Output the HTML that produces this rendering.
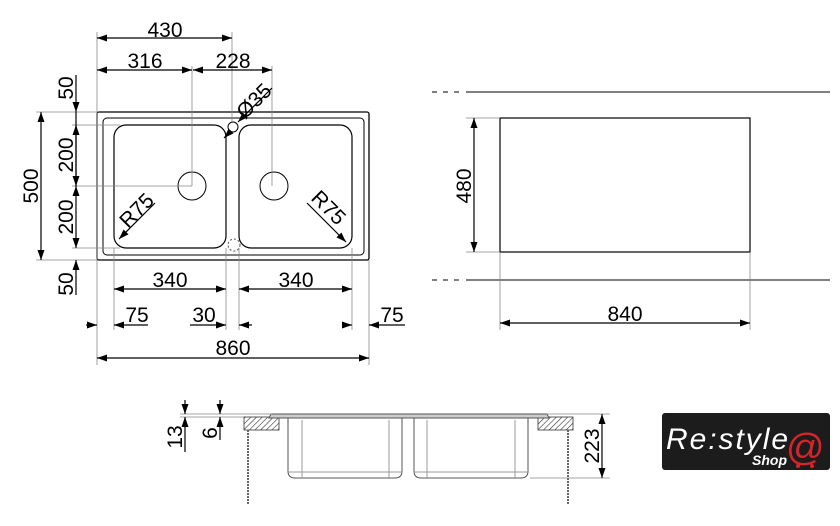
<!DOCTYPE html>
<html><head><meta charset="utf-8"><style>
html,body{margin:0;padding:0;background:#fff;}
svg{display:block;font-family:"Liberation Sans",sans-serif;}
</style></head><body>
<svg width="840" height="526" viewBox="0 0 840 526" xmlns="http://www.w3.org/2000/svg">
<defs>
<marker id="a" viewBox="0 0 10 10" refX="10" refY="5" markerWidth="10" markerHeight="10" orient="auto-start-reverse" markerUnits="userSpaceOnUse"><path d="M0,1.5 L10,5 L0,8.5 Z" fill="#000"/></marker>
<pattern id="h" width="4" height="4" patternUnits="userSpaceOnUse" patternTransform="rotate(45)"><rect width="4" height="4" fill="#fff"/><line x1="0" y1="0" x2="0" y2="4" stroke="#333" stroke-width="1.2"/></pattern>
</defs>
<g fill="none" stroke="#000" stroke-width="1">
<rect x="97" y="112" width="272" height="148" rx="2" stroke-width="1.3"/>
<rect x="103" y="118" width="261" height="137" rx="4"/>
<rect x="114" y="125" width="112" height="123" rx="12" stroke-width="1.2"/>
<rect x="239" y="125" width="113" height="123" rx="12" stroke-width="1.2"/>
<circle cx="192" cy="186" r="14"/>
<circle cx="274" cy="186" r="14"/>
<circle cx="233" cy="127" r="5"/>
<circle cx="234" cy="245" r="6" stroke-dasharray="2,2" stroke="#555"/>
</g>
<g fill="none" stroke="#888" stroke-width="0.8">
<line x1="97" y1="32" x2="97" y2="365"/>
<line x1="192" y1="66" x2="192" y2="186"/>
<line x1="232" y1="32" x2="232" y2="122"/>
<line x1="272" y1="66" x2="272" y2="186"/>
<line x1="36" y1="112" x2="97" y2="112"/>
<line x1="36" y1="260" x2="97" y2="260"/>
<line x1="72" y1="125" x2="120" y2="125"/>
<line x1="72" y1="186" x2="192" y2="186"/>
<line x1="72" y1="248" x2="120" y2="248"/>
<line x1="114" y1="248" x2="114" y2="330"/>
<line x1="226" y1="248" x2="226" y2="330"/>
<line x1="239" y1="248" x2="239" y2="330"/>
<line x1="352" y1="248" x2="352" y2="330"/>
<line x1="369" y1="260" x2="369" y2="365"/>
</g>
<g stroke="#000" stroke-width="1.2" fill="none">
<line x1="97" y1="38" x2="232" y2="38" marker-start="url(#a)" marker-end="url(#a)"/>
<line x1="97" y1="70" x2="192" y2="70" marker-start="url(#a)" marker-end="url(#a)"/>
<line x1="193" y1="70" x2="272" y2="70" marker-start="url(#a)" marker-end="url(#a)"/>
<line x1="272" y1="88" x2="238" y2="122" marker-end="url(#a)"/>
<line x1="231" y1="131" x2="224" y2="138" marker-end="url(#a)"/>
<line x1="41" y1="112" x2="41" y2="260" marker-start="url(#a)" marker-end="url(#a)"/>
<line x1="76" y1="75" x2="76" y2="112" marker-end="url(#a)"/>
<line x1="76" y1="112" x2="76" y2="186" marker-end="url(#a)"/>
<line x1="76" y1="186" x2="76" y2="248" marker-start="url(#a)" marker-end="url(#a)"/>
<line x1="76" y1="125" x2="76" y2="186" marker-start="url(#a)"/>
<line x1="76" y1="295" x2="76" y2="260" marker-end="url(#a)"/>
<line x1="114" y1="289" x2="226" y2="289" marker-start="url(#a)" marker-end="url(#a)"/>
<line x1="239" y1="289" x2="352" y2="289" marker-start="url(#a)" marker-end="url(#a)"/>
<line x1="86" y1="325" x2="97" y2="325" marker-end="url(#a)"/>
<line x1="148" y1="325" x2="114" y2="325" marker-end="url(#a)"/>
<line x1="190" y1="325" x2="226" y2="325" marker-end="url(#a)"/>
<line x1="252" y1="325" x2="239" y2="325" marker-end="url(#a)"/>
<line x1="342" y1="325" x2="352" y2="325" marker-end="url(#a)"/>
<line x1="405" y1="325" x2="369" y2="325" marker-end="url(#a)"/>
<line x1="97" y1="358" x2="369" y2="358" marker-start="url(#a)" marker-end="url(#a)"/>
<line x1="155" y1="203" x2="119" y2="239" marker-end="url(#a)"/>
<line x1="307" y1="203" x2="346" y2="242" marker-end="url(#a)"/>
</g>
<g font-size="21" fill="#000">
<text x="165" y="37" text-anchor="middle">430</text>
<text x="145" y="68" text-anchor="middle">316</text>
<text x="233" y="68" text-anchor="middle">228</text>
<text transform="translate(245,120) rotate(-45)" text-anchor="start">Ø35</text>
<text transform="translate(38,186) rotate(-90)" text-anchor="middle">500</text>
<text transform="translate(73,88) rotate(-90)" text-anchor="middle">50</text>
<text transform="translate(73,155) rotate(-90)" text-anchor="middle">200</text>
<text transform="translate(73,217) rotate(-90)" text-anchor="middle">200</text>
<text transform="translate(73,284) rotate(-90)" text-anchor="middle">50</text>
<text transform="translate(128,229) rotate(-45)" text-anchor="start">R75</text>
<text transform="translate(310,199) rotate(45)" text-anchor="start">R75</text>
<text x="170" y="287" text-anchor="middle">340</text>
<text x="296" y="287" text-anchor="middle">340</text>
<text x="137" y="322" text-anchor="middle">75</text>
<text x="204" y="322" text-anchor="middle">30</text>
<text x="392" y="322" text-anchor="middle">75</text>
<text x="233" y="355" text-anchor="middle">860</text>
<text transform="translate(471,186) rotate(-90)" text-anchor="middle">480</text>
<text x="625" y="321" text-anchor="middle">840</text>
</g>
<g fill="none" stroke="#000" stroke-width="1">
<line x1="432" y1="92" x2="464" y2="92" stroke-dasharray="5,6"/>
<line x1="466" y1="92" x2="830" y2="92"/>
<line x1="432" y1="280" x2="464" y2="280" stroke-dasharray="5,6"/>
<line x1="466" y1="280" x2="830" y2="280"/>
<rect x="500" y="118" width="250" height="134" stroke-width="1.2"/>
</g>
<g stroke="#888" stroke-width="0.8">
<line x1="466" y1="118" x2="500" y2="118"/>
<line x1="466" y1="252" x2="500" y2="252"/>
<line x1="500" y1="252" x2="500" y2="330"/>
<line x1="750" y1="252" x2="750" y2="330"/>
</g>
<g stroke="#000" stroke-width="1.2">
<line x1="474" y1="118" x2="474" y2="252" marker-start="url(#a)" marker-end="url(#a)"/>
<line x1="500" y1="323" x2="750" y2="323" marker-start="url(#a)" marker-end="url(#a)"/>
</g>
<rect x="244" y="417" width="35" height="13" fill="url(#h)" stroke="#333" stroke-width="0.8"/>
<rect x="538" y="417" width="35" height="13" fill="url(#h)" stroke="#333" stroke-width="0.8"/>
<line x1="248" y1="430" x2="248" y2="505" stroke="#666" stroke-width="2" stroke-dasharray="2,1"/>
<line x1="568" y1="430" x2="568" y2="505" stroke="#666" stroke-width="2" stroke-dasharray="2,1"/>
<g fill="none" stroke="#555" stroke-width="1">
<path d="M271,414 L547,414 L549,418 L269,418 Z" fill="#ccc"/>
<path d="M288,418 V471 Q288,478 295,478 H395 Q402,478 402,471 V418"/>
<path d="M414,418 V471 Q414,478 421,478 H521 Q528,478 528,471 V418"/>
<line x1="302" y1="420" x2="302" y2="478" stroke="#999"/>
<line x1="389" y1="420" x2="389" y2="478" stroke="#999"/>
<line x1="427" y1="420" x2="427" y2="478" stroke="#999"/>
<line x1="515" y1="420" x2="515" y2="478" stroke="#999"/>
<line x1="288" y1="472" x2="402" y2="472" stroke="#999"/>
<line x1="414" y1="472" x2="528" y2="472" stroke="#999"/>
</g>
<g stroke="#888" stroke-width="0.8">
<line x1="180" y1="414" x2="272" y2="414"/>
<line x1="180" y1="417" x2="244" y2="417"/>
<line x1="547" y1="414" x2="610" y2="414"/>
<line x1="530" y1="478" x2="610" y2="478"/>
</g>
<g stroke="#000" stroke-width="1.2">
<line x1="185" y1="400" x2="185" y2="414" marker-end="url(#a)"/>
<line x1="185" y1="452" x2="185" y2="417" marker-end="url(#a)"/>
<line x1="220" y1="400" x2="220" y2="414" marker-end="url(#a)"/>
<line x1="220" y1="440" x2="220" y2="417" marker-end="url(#a)"/>
<line x1="602" y1="414" x2="602" y2="478" marker-start="url(#a)" marker-end="url(#a)"/>
</g>
<g font-size="21" fill="#000">
<text transform="translate(182,437) rotate(-90)" text-anchor="middle">13</text>
<text transform="translate(217,433) rotate(-90)" text-anchor="middle">6</text>
<text transform="translate(599,446) rotate(-90)" text-anchor="middle">223</text>
</g>
<rect x="662" y="413" width="168" height="57" rx="3" fill="#1c1c1c"/>
<text x="666" y="449" font-size="30" font-style="italic" fill="#fff" textLength="122">Re:style</text>
<text x="752" y="465" font-size="14" font-weight="bold" font-style="italic" fill="#fff">Shop</text>
<text x="786" y="460" font-size="38" fill="#d8232a">@</text>
<circle cx="798" cy="466" r="2" fill="#d8232a"/>
<circle cx="812" cy="466" r="2" fill="#d8232a"/>
</svg>
</body></html>
